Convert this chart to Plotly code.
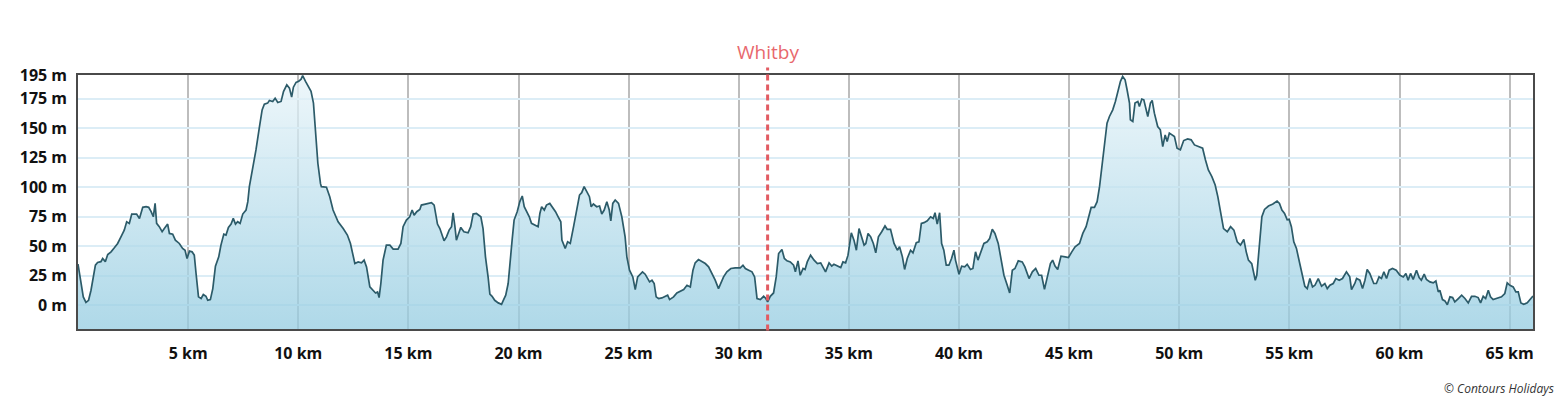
import plotly.graph_objects as go

# ---------------- data ----------------
distance_km = [
    0.00, 0.14, 0.24, 0.36, 0.48, 0.59, 0.70, 0.79, 0.89, 1.04, 1.12, 1.24, 1.35, 1.50, 1.65, 1.80, 1.95,
    2.10, 2.21, 2.33, 2.44, 2.56, 2.66, 2.79, 2.94, 3.09, 3.21, 3.32, 3.42, 3.50, 3.57, 3.69, 3.82, 3.92,
    4.07, 4.15, 4.30, 4.42, 4.60, 4.75, 4.86, 4.95, 5.06, 5.18, 5.28, 5.36, 5.47, 5.59, 5.69, 5.81, 5.89,
    6.01, 6.12, 6.24, 6.39, 6.49, 6.62, 6.72, 6.83, 6.95, 7.05, 7.15, 7.25, 7.36, 7.48, 7.63, 7.71, 7.78,
    7.93, 8.08, 8.24, 8.36, 8.46, 8.61, 8.69, 8.84, 8.95, 9.07, 9.22, 9.33, 9.48, 9.60, 9.70, 9.78, 9.90,
    10.02, 10.13, 10.20, 10.33, 10.43, 10.58, 10.69, 10.78, 10.89, 11.01, 11.05, 11.28, 11.43, 11.58,
    11.81, 12.04, 12.23, 12.37, 12.49, 12.57, 12.72, 12.87, 12.99, 13.10, 13.25, 13.40, 13.51, 13.60,
    13.67, 13.75, 13.85, 14.00, 14.16, 14.31, 14.53, 14.66, 14.76, 14.91, 15.06, 15.17, 15.26, 15.38,
    15.52, 15.59, 15.82, 16.05, 16.17, 16.32, 16.43, 16.53, 16.62, 16.73, 16.85, 16.96, 17.03, 17.11,
    17.18, 17.26, 17.38, 17.52, 17.71, 17.83, 17.94, 18.09, 18.29, 18.39, 18.50, 18.62, 18.70, 18.80,
    18.92, 19.08, 19.23, 19.30, 19.42, 19.53, 19.60, 19.71, 19.80, 19.94, 20.06, 20.17, 20.26, 20.33,
    20.49, 20.59, 20.74, 20.89, 20.97, 21.05, 21.17, 21.27, 21.42, 21.53, 21.68, 21.80, 21.92, 21.97,
    22.12, 22.23, 22.35, 22.50, 22.65, 22.77, 22.87, 22.98, 23.10, 23.22, 23.30, 23.40, 23.55, 23.68,
    23.78, 23.89, 24.01, 24.12, 24.19, 24.28, 24.39, 24.54, 24.69, 24.84, 24.92, 25.04, 25.19, 25.30,
    25.41, 25.53, 25.63, 25.75, 25.86, 25.95, 26.06, 26.16, 26.25, 26.36, 26.51, 26.66, 26.77, 26.86,
    27.04, 27.19, 27.34, 27.50, 27.65, 27.80, 27.92, 28.02, 28.17, 28.32, 28.48, 28.63, 28.78, 28.93,
    29.08, 29.19, 29.31, 29.46, 29.64, 29.84, 30.07, 30.19, 30.30, 30.45, 30.60, 30.72, 30.83, 30.98,
    31.13, 31.23, 31.31, 31.43, 31.58, 31.70, 31.81, 31.96, 32.07, 32.19, 32.34, 32.49, 32.57, 32.69,
    32.79, 32.92, 33.01, 33.11, 33.26, 33.42, 33.57, 33.72, 33.82, 33.94, 34.10, 34.22, 34.32, 34.48,
    34.63, 34.73, 34.85, 34.96, 35.04, 35.11, 35.23, 35.34, 35.46, 35.58, 35.69, 35.77, 35.87, 35.99,
    36.11, 36.22, 36.34, 36.49, 36.64, 36.74, 36.89, 37.05, 37.20, 37.30, 37.43, 37.53, 37.65, 37.80,
    37.91, 38.06, 38.18, 38.29, 38.41, 38.56, 38.71, 38.83, 38.91, 39.01, 39.12, 39.21, 39.31, 39.42,
    39.54, 39.66, 39.77, 39.84, 40.00, 40.12, 40.26, 40.37, 40.52, 40.63, 40.75, 40.86, 40.98, 41.13,
    41.28, 41.39, 41.51, 41.63, 41.78, 41.92, 42.04, 42.19, 42.30, 42.42, 42.54, 42.69, 42.87, 42.99,
    43.18, 43.33, 43.48, 43.63, 43.75, 43.88, 44.00, 44.15, 44.25, 44.36, 44.48, 44.63, 44.82, 44.97,
    45.12, 45.27, 45.47, 45.62, 45.77, 45.88, 46.00, 46.15, 46.27, 46.38, 46.48, 46.60, 46.72, 46.83,
    46.98, 47.10, 47.21, 47.33, 47.43, 47.54, 47.63, 47.74, 47.78, 47.89, 47.99, 48.12, 48.19, 48.30,
    48.39, 48.49, 48.57, 48.69, 48.77, 48.87, 49.02, 49.14, 49.25, 49.36, 49.45, 49.55, 49.68, 49.78,
    49.90, 50.05, 50.20, 50.38, 50.54, 50.69, 50.87, 51.06, 51.19, 51.32, 51.48, 51.63, 51.75, 51.87,
    52.01, 52.18, 52.33, 52.48, 52.63, 52.78, 52.93, 53.04, 53.14, 53.29, 53.45, 53.52, 53.64, 53.75,
    53.87, 54.05, 54.25, 54.44, 54.55, 54.66, 54.78, 54.90, 54.99, 55.09, 55.20, 55.32, 55.47, 55.59,
    55.70, 55.81, 55.93, 56.05, 56.16, 56.31, 56.46, 56.61, 56.72, 56.84, 56.99, 57.11, 57.26, 57.41,
    57.59, 57.74, 57.82, 57.97, 58.05, 58.20, 58.32, 58.43, 58.53, 58.65, 58.83, 58.95, 59.07, 59.18,
    59.29, 59.41, 59.53, 59.68, 59.85, 60.02, 60.17, 60.29, 60.39, 60.50, 60.62, 60.77, 60.89, 60.99,
    61.12, 61.22, 61.38, 61.53, 61.65, 61.76, 61.83, 61.95, 62.06, 62.17, 62.29, 62.41, 62.51, 62.67,
    62.82, 62.97, 63.12, 63.27, 63.42, 63.57, 63.68, 63.80, 63.91, 64.03, 64.13, 64.25, 64.44, 64.63,
    64.78, 64.89, 65.01, 65.16, 65.28, 65.39, 65.51, 65.64, 65.80, 65.95, 66.06,
]

elevation_m = [
    35, 18.5, 7.2, 2.5, 4.3, 12.8, 24, 34, 36.3, 37, 39.7, 37, 43, 45.3, 48.7, 52.4, 58,
    63.7, 70.8, 69.4, 77.3, 77, 77.3, 73.6, 83, 83.5, 83, 79.3, 75, 86.4, 69.4, 66.6, 62.3, 65,
    68.8, 60.9, 60.3, 55.2, 52.4, 48.2, 46.7, 39.6, 45.9, 45.3, 42.5, 27, 7.2, 5.8, 9.2, 7.7, 4.3,
    4.9, 14.2, 33.2, 41.1, 51, 60.3, 59.5, 66, 68.8, 73.6, 68.8, 70.8, 69.4, 77.3, 80.7, 87.8, 100.5,
    114.6, 131.6, 151.4, 165.5, 170.3, 171.2, 173.4, 172.6, 175.4, 171.7, 172.6, 181, 186.7, 183.9, 176.3, 184.7, 188.7,
    189.6, 191.5, 194.4, 189.6, 185.9, 181.1, 171.2, 148.6, 120.3, 103, 100.5, 100, 92, 80.7,
    70.8, 65, 59.5, 52.4, 42.5, 35.4, 36.8, 36, 38.3, 32.6, 15.6, 12.2, 10.5, 11.4,
    6.6, 18.5, 38.3, 51, 51, 47.6, 47.6, 52.4, 66.6, 72.2, 75, 80.7, 76.4, 79.3,
    81.2, 84.9, 85.8, 86.9, 84.9, 68.8, 65, 59.5, 54.7, 58, 63.7, 66.6, 78.4, 67.2,
    55.2, 59.5, 66, 62.3, 61.4, 66.6, 77.3, 77.8, 75, 65, 41.1, 24, 9.5, 7.7,
    4.3, 2.1, 0.9, 3.8, 8.6, 18.5, 35.4, 55.2, 72.2, 79.3, 87.8, 92.6, 83.5, 80.7,
    75, 69.4, 68, 66.6, 77.8, 83.5, 80.7, 84.9, 86.3, 83.5, 79.3, 75, 70.8, 55.2,
    48.2, 53.8, 52.4, 66.6, 80.7, 93.4, 95.4, 100.5, 96.3, 92, 83.5, 85.8, 83.5, 84.1,
    77.3, 80.7, 87.8, 80.7, 71.6, 86.3, 89.2, 86.3, 75, 58, 41.1, 29.8, 24.1, 13.4,
    24.1, 27, 28.4, 26.4, 22.7, 19.9, 21.3, 18.5, 7.2, 5.8, 6.3, 7.7, 8.6, 4.9,
    7.2, 10.5, 12.2, 13.4, 17, 15.6, 29.8, 36, 38.8, 36.8, 35.4, 32.6, 27, 21.3,
    14.2, 18.5, 24.1, 28.4, 31.2, 31.8, 31.8, 34, 31.2, 29.8, 28.4, 24.1, 5.8, 4.9,
    7.7, 5.8, 2.9, 7.7, 10.5, 24.1, 43.9, 47.3, 39.7, 37.7, 36.8, 34, 28.4, 37.7,
    25.5, 31.2, 30.4, 36.8, 42.5, 38.3, 35.4, 36, 32.6, 28.4, 36, 33.2, 34.8, 33.2,
    32, 36.8, 36, 42.5, 52.4, 61.4, 55.2, 46.7, 65, 58, 51, 52.4, 60.9, 58,
    52.4, 44.5, 58, 62.3, 67.2, 64.4, 64.4, 52.4, 46.7, 49.6, 41.1, 30.4, 39.7, 46.7,
    44.5, 53, 53.8, 69.4, 70, 71.6, 75, 73.6, 78.4, 68.8, 78.4, 52.4, 46.7, 34,
    34, 39.7, 46.7, 38.3, 26.4, 33.2, 32.6, 34.8, 30.4, 31.2, 45.3, 38.3, 45.3, 52.4,
    53.8, 56.6, 64.4, 60.9, 52.4, 38.3, 25.5, 17, 10.5, 29.8, 31.2, 37.7, 36.8, 32.6,
    22.7, 28.4, 31.2, 25.5, 25.5, 13.5, 24.1, 35.4, 38.3, 33.2, 30.4, 41.7, 41.1, 40.5,
    45.3, 49.6, 52.4, 60.9, 66.6, 75, 82.9, 82.9, 87.8, 100.5, 117.4, 137.2, 154.2, 159.9,
    165.5, 172.6, 180.2, 189.6, 193.8, 191, 182.5, 171.2, 157.1, 155.6, 171.2, 172.6, 168.4, 174.6,
    174, 165.5, 159.9, 171.2, 173.4, 162.7, 151.4, 148.6, 134.4, 144.3, 138.7, 145.8, 144.3, 142.9,
    133, 131.6, 139.5, 140.9, 140.1, 135.8, 134.4, 133, 123.1, 114.6, 109, 101.9, 92, 77.8,
    65, 62.3, 66.6, 63.7, 53.8, 51, 55.8, 45.3, 38.3, 35.4, 21.3, 25.5, 52.4, 75,
    81.2, 84.1, 85.8, 88.3, 86.3, 80.7, 77.8, 72.5, 72.8, 66.6, 53.8, 48.2, 35.4, 24.1,
    16.2, 14.2, 22.7, 15.6, 17, 22.7, 16.2, 18.5, 14.2, 17, 18.5, 22.7, 21.3, 22.7,
    28.4, 24.1, 13.4, 18.5, 22.7, 21.3, 14.2, 21.3, 30.4, 27, 18.5, 18.5, 24.1, 22.7,
    28.4, 22.7, 29.8, 31.2, 29.8, 25.5, 24.1, 27, 21.3, 27, 22, 29.8, 23.5, 21.3,
    26.4, 22, 19.9, 19, 20.6, 11.4, 12.8, 4.9, 3.8, 0.5, 7.2, 6.6, 2.9, 5.8,
    8.6, 5.8, 2.1, 7.7, 7.7, 6.6, 2.1, 7.7, 5.8, 12.8, 7.2, 4.9, 5.8, 7.2,
    10, 19, 17, 15.6, 11.4, 11.4, 2.1, 0.9, 2.1, 5.8, 8,
]

x_tick_values = [5, 10, 15, 20, 25, 30, 35, 40, 45, 50, 55, 60, 65]
x_tick_labels = ["5 km", "10 km", "15 km", "20 km", "25 km", "30 km", "35 km",
                 "40 km", "45 km", "50 km", "55 km", "60 km", "65 km"]
y_tick_values = [0, 25, 50, 75, 100, 125, 150, 175, 195]
y_tick_labels = ["0 m", "25 m", "50 m", "75 m", "100 m", "125 m", "150 m", "175 m", "195 m"]

x_range = [0, 66.06]
y_range = [-20, 195]

marker_name = "Whitby"
marker_km = 31.31
credit_text = "© Contours Holidays"

# ---------------- figure ----------------
fig = go.Figure()

# baseline at the bottom of the plot so the area fills down to the frame
fig.add_trace(go.Scatter(
    x=[x_range[0], x_range[1]], y=[y_range[0], y_range[0]],
    mode="lines", line=dict(width=0, color="rgba(0,0,0,0)"),
    hoverinfo="skip", showlegend=False,
))

fig.add_trace(go.Scatter(
    x=distance_km, y=elevation_m,
    mode="lines",
    line=dict(color="#2c5b69", width=1.7),
    fill="tonexty",
    fillgradient=dict(
        type="vertical",
        start=y_range[0], stop=y_range[1],
        colorscale=[[0, "rgba(148,204,225,0.75)"], [1, "rgba(232,244,249,0.75)"]],
    ),
    showlegend=False,
    hoverinfo="skip",
))

tick_font = dict(family="Open Sans, sans-serif", size=16, color="#111111", weight="bold")

fig.update_xaxes(
    range=x_range, automargin=False,
    tickmode="array", tickvals=x_tick_values, ticktext=x_tick_labels,
    ticks="outside", ticklen=0, tickcolor="rgba(0,0,0,0)",
    ticklabelstandoff=9,
    showgrid=True, gridcolor="#bdbdbd", gridwidth=2,
    zeroline=False,
    showline=True, linecolor="#4a4a4a", linewidth=1.5, mirror=True,
    tickfont=tick_font,
    fixedrange=True,
)

fig.update_yaxes(
    range=y_range, automargin=False,
    tickmode="array", tickvals=y_tick_values, ticktext=y_tick_labels,
    ticks="outside", ticklen=0, tickcolor="rgba(0,0,0,0)",
    ticklabelstandoff=6,
    showgrid=True, gridcolor="#dcedf6", gridwidth=2,
    zeroline=False,
    showline=True, linecolor="#4a4a4a", linewidth=1.5, mirror=True,
    tickfont=tick_font,
    fixedrange=True,
)

# Whitby marker line
fig.add_shape(
    type="line", xref="x", yref="paper",
    x0=marker_km, x1=marker_km, y0=-0.006, y1=1.03,
    line=dict(color="#e25b62", width=3, dash="6px,4px"),
    layer="above",
)

fig.add_annotation(
    x=marker_km, xref="x", y=1.09, yref="paper",
    text=marker_name, showarrow=False,
    font=dict(family="Open Sans, sans-serif", size=19, color="#e8686d"),
    xanchor="center", yanchor="middle",
)

fig.add_annotation(
    x=1, xref="paper", xanchor="right", xshift=23,
    y=-0.234, yref="paper", yanchor="middle",
    text=credit_text, showarrow=False,
    font=dict(family="Open Sans, sans-serif", size=12, color="#333333", style="italic"),
)

# the page body adds an 8px offset, so the figure is 8px smaller and margins shifted
fig.update_layout(
    width=1556, height=395,
    margin=dict(l=70, r=31, t=67, b=74),
    plot_bgcolor="white", paper_bgcolor="white",
    showlegend=False,
)

fig.write_html("out.html", config={"displayModeBar": False})
